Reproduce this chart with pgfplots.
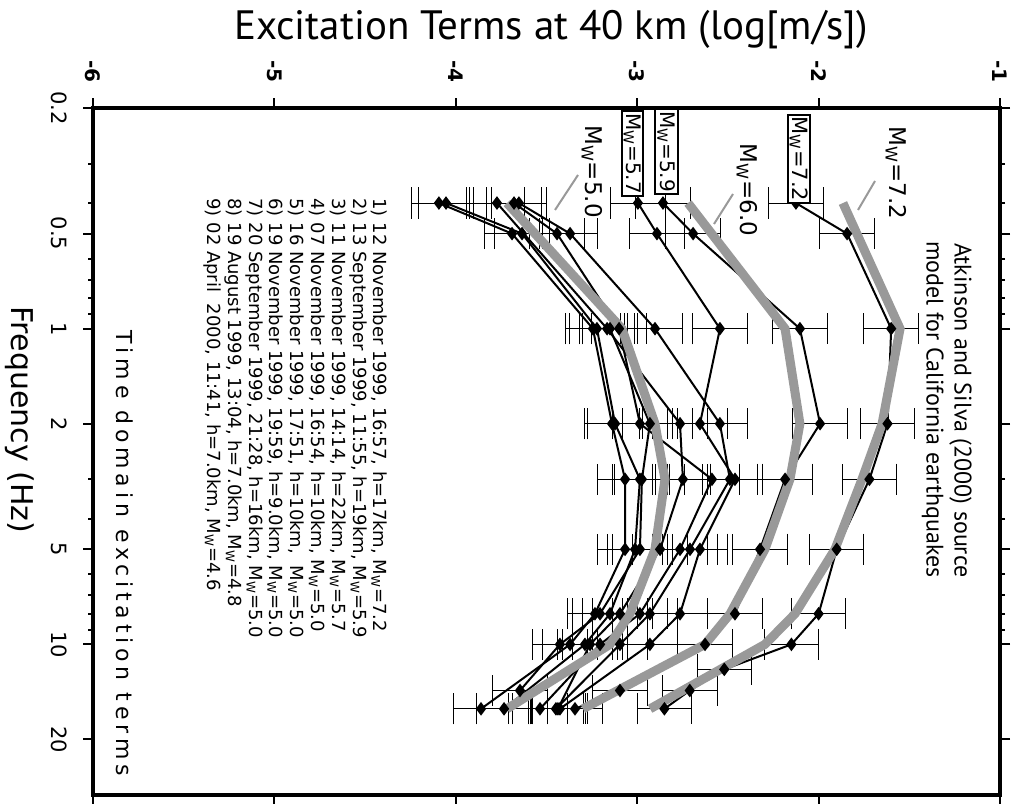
\documentclass[border=0pt]{standalone}
\usepackage{pgfplots}
\pgfplotsset{compat=1.18}
\usepackage{fontspec}
\setmainfont{DejaVu Sans}
\newfontfamily\titlefont{PT Sans}

% one measured event: excitation term E against frequency f
\pgfplotsset{
  event/.style={black, line width=1pt, mark=diamond*, mark size=2.6pt,
    mark options={solid, fill=black},
    error bars/.cd, x dir=both, x fixed=0.15,
    error mark=|,
    error bar style={line width=0.5pt, black},
    error mark options={mark size=7.8pt, line width=0.5pt, black}},
  model/.style={no markers, line width=4.5pt, black!40},
}

\begin{document}
\begin{tikzpicture}
\begin{axis}[
  at={(0pt,0pt)}, anchor=south west,
  scale only axis, width=453.5pt, height=343.5pt,
  xmin=-6, xmax=-1,
  ymode=log, ymin=0.2, ymax=30, y dir=reverse,
  xtick={-6,-5,-4,-3,-2,-1},
  xticklabels={-6,-5,-4,-3,-2,-1},
  ytick={0.2,0.5,1,2,5,10,20},
  yticklabels={0.2,0.5,1,2,5,10,20},
  minor ytick={0.3,0.4,0.6,0.7,0.8,0.9,3,4,6,7,8,9},
  xticklabel pos=upper,
  tick pos=both,
  tick align=outside,
  major tick length=5pt,
  minor tick length=2.5pt,
  axis line style={line width=2pt},
  every tick/.style={black, line width=1pt},
  xticklabel style={rotate=-90, anchor=east, inner sep=0pt,
    font=\bfseries\fontsize{10}{12}\selectfont},
  xticklabel shift=7.5pt,
  yticklabel style={rotate=-90, anchor=north, inner sep=0pt,
    font=\fontsize{10.5}{12}\selectfont},
  yticklabel shift=8pt,
  clip=false,
]
% event 1
\addplot[event] table {
E f
-2.125 0.4
-1.843 0.5
-1.60 1
-1.62 2
-1.72 3
-1.90 5
-2.00 8
-2.15 10
-2.52 12
-2.71 14
-2.85 16
};
% event 2
\addplot[event] table {
E f
-2.858 0.4
-2.692 0.5
-2.103 1
-1.992 2
-2.185 3
-2.323 5
-2.461 8
-2.626 10
-3.095 14
-3.343 16
};
% event 3
\addplot[event] table {
E f
-2.996 0.4
-2.891 0.5
-2.544 1
-2.654 2
-2.461 3
-2.654 5
-2.764 8
-2.930 10
-3.426 16
};
% event 4
\addplot[event] table {
E f
-3.652 0.4
-3.370 0.5
-2.902 1
-2.544 2
-2.489 3
-2.709 5
-2.930 8
-3.095 10
-3.448 16
};
% event 5
\addplot[event] table {
E f
-3.679 0.4
-3.442 0.5
-3.100 1
-2.985 2
-2.588 3
-2.764 5
-2.985 8
-3.205 10
-3.536 16
};
% event 6
\addplot[event] table {
E f
-3.773 0.4
-3.166 1
-2.764 2
-2.748 3
-2.874 5
-3.095 8
-3.260 10
-3.437 16
};
% event 7
\addplot[event] table {
E f
-4.054 0.4
-3.635 0.5
-3.222 1
-3.122 2
-2.985 3
-3.012 5
-3.150 8
-3.288 10
-3.734 16
};
% event 8
\addplot[event] table {
E f
-4.093 0.4
-3.690 0.5
-3.244 1
-3.139 2
-3.067 3
-3.067 5
-3.233 8
-3.370 10
-3.861 16
};
% event 9
\addplot[event] table {
E f
-3.15 1
-2.93 2
-2.974 3
-2.985 5
-3.205 8
-3.426 10
-3.646 14
};
% Atkinson and Silva (2000) model curves
\addplot[model] table {
E f
-1.866 0.4
-1.551 1
-1.650 2
-1.761 3
-1.910 5
-2.130 8
-2.296 10
-2.929 16
};
\addplot[model] table {
E f
-2.720 0.4
-2.185 1
-2.103 2
-2.158 3
-2.296 5
-2.488 8
-2.626 10
-3.299 16
};
\addplot[model] table {
E f
-3.718 0.4
-3.084 1
-2.902 2
-2.847 3
-2.902 5
-3.040 8
-3.150 10
-3.718 16
};
\end{axis}

% axis titles
\node[font=\titlefont\fontsize{20.5}{24}\selectfont] at (229pt,382.5pt)
  {Excitation Terms at 40 km (log[m/s])};
\node[rotate=-90, font=\fontsize{15}{18}\selectfont] at (-36.5pt,187.5pt)
  {Frequency (Hz)};

% event list
\node[rotate=-90, anchor=north west, inner sep=0pt, align=left,
  font=\fontsize{9}{10.4}\selectfont] at (147.5pt,298.5pt)
  {1) 12 November 1999, 16:57, h=17km, M\textsubscript{W}=7.2\\
   2) 13 September 1999, 11:55, h=19km, M\textsubscript{W}=5.9\\
   3) 11 November 1999, 14:14, h=22km, M\textsubscript{W}=5.7\\
   4) 07 November 1999, 16:54, h=10km, M\textsubscript{W}=5.0\\
   5) 16 November 1999, 17:51, h=10km, \ M\textsubscript{W}=5.0\\
   6) 19 November 1999, 19:59, h=9.0km, M\textsubscript{W}=5.0\\
   7) 20 September 1999, 21:28, h=16km, M\textsubscript{W}=5.0\\
   8) 19 August 1999, 13:04, h=7.0km, M\textsubscript{W}=4.8\\
   9) 02 April \ 2000, 11:41, h=7.0km, M\textsubscript{W}=4.6};
\node[rotate=-90, anchor=west, inner sep=0pt,
  font=\addfontfeatures{LetterSpace=22}\fontsize{11}{13}\selectfont] at (16pt,232.5pt)
  {Time domain excitation terms};
\node[rotate=-90, anchor=north east, inner sep=0pt, align=right,
  font=\titlefont\fontsize{12}{14}\selectfont] at (439.5pt,108.5pt)
  {Atkinson and Silva (2000) source\\model for California earthquakes};

% magnitude labels
\node[rotate=-90, font=\fontsize{11.5}{13}\selectfont] at (401.5pt,311pt)
  {M\textsubscript{W}=7.2};
\node[rotate=-90, font=\fontsize{11.5}{13}\selectfont] at (327pt,302.5pt)
  {M\textsubscript{W}=6.0};
\node[rotate=-90, font=\fontsize{11.5}{13}\selectfont] at (249.5pt,311.75pt)
  {M\textsubscript{W}=5.0};
\node[rotate=-90, draw, line width=1pt, fill=white, inner sep=1pt,
  font=\fontsize{10.5}{12}\selectfont] at (353pt,318pt) {M\textsubscript{W}=7.2};
\node[rotate=-90, draw, line width=1pt, fill=white, inner sep=1pt,
  font=\fontsize{10}{12}\selectfont] at (286.75pt,321.75pt) {M\textsubscript{W}=5.9};
\node[rotate=-90, draw, line width=1pt, fill=white, inner sep=1pt,
  font=\fontsize{10}{12}\selectfont] at (269.75pt,320.75pt) {M\textsubscript{W}=5.7};
\draw[black!40, line width=1pt] (391pt,307pt) -- (382.5pt,292.5pt);
\draw[black!40, line width=1pt] (320pt,300.5pt) -- (310.5pt,285.5pt);
\draw[black!40, line width=1pt] (242.5pt,310pt) -- (231pt,292.5pt);

\pgfresetboundingbox
\path[use as bounding box] (-46.5pt,-4pt) rectangle (461pt,397.5pt);
\end{tikzpicture}
\end{document}
